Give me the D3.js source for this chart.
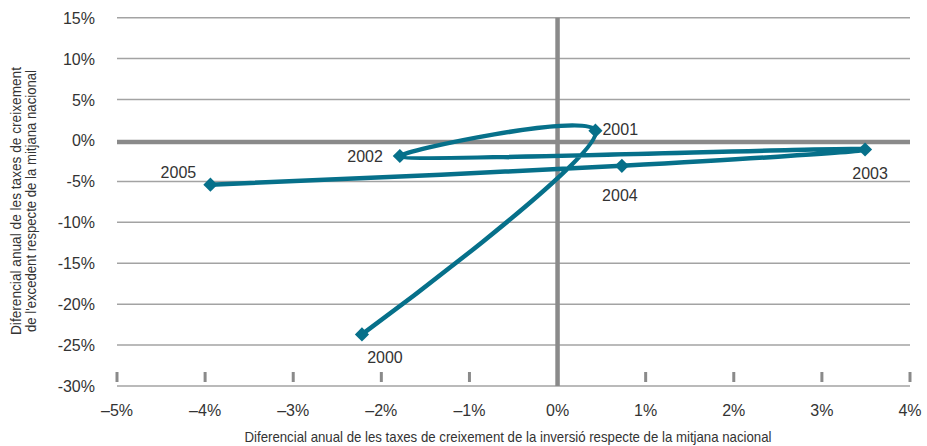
<!DOCTYPE html>
<html>
<head>
<meta charset="utf-8">
<script src="https://cdn.jsdelivr.net/npm/d3@7"></script>
<style>
  body { margin: 0; background: #fff; }
  text { font-family: "Liberation Sans", Arial, sans-serif; fill: #333; }
  .title { font-size: 15px; }
</style>
</head>
<body>
<svg id="chart" width="927" height="446"></svg>
<script>
// values (in %)
var years = ["2000", "2001", "2002", "2003", "2004", "2005"];
var inversio = [-2.22, 0.43, -1.79, 3.49, 0.73, -3.94];
var excedent = [-23.7, 1.2, -1.9, -1.1, -3.1, -5.4];
var xTicks = [-5, -4, -3, -2, -1, 0, 1, 2, 3, 4];
var yTicks = [15, 10, 5, 0, -5, -10, -15, -20, -25, -30];
// label offsets from marker: [dx, dy, anchor]
var labelPos = [[23, 29, "middle"], [7, 4, "start"], [-17, 6, "end"], [5, 30, "middle"], [-2, 35, "middle"], [-32, -7, "middle"]];

var svg = d3.select("#chart");
var x = d3.scaleLinear().domain([-5, 4]).range([117, 910]);
var y = d3.scaleLinear().domain([-30, 15]).range([386, 17.7]);

// horizontal grid
svg.append("g").selectAll("line").data(yTicks).join("line")
    .attr("x1", x(-5)).attr("x2", x(4))
    .attr("y1", function(d) { return d == 0 ? y(d) + 1.5 : y(d); })
    .attr("y2", function(d) { return d == 0 ? y(d) + 1.5 : y(d); })
    .attr("stroke", function(d) { return d == 0 ? "#8a8a8a" : "#a3a3a3"; })
    .attr("stroke-width", function(d) { return d == 0 ? 4.5 : 1.5; });

// y tick labels
svg.append("g").selectAll("text").data(yTicks).join("text")
    .attr("x", 95).attr("y", function(d) { return y(d) + 6; })
    .attr("text-anchor", "end")
    .style("font-size", "16px")
    .text(function(d) { return d + "%"; });

// x tick marks above the bottom line
svg.append("g").selectAll("line").data(xTicks.filter(function(d) { return d != 0; })).join("line")
    .attr("x1", function(d) { return x(d); })
    .attr("x2", function(d) { return x(d); })
    .attr("y1", y(-30) - 14).attr("y2", y(-30) - 4)
    .attr("stroke", "#8a8a8a").attr("stroke-width", 3);

// vertical zero line
svg.append("line")
    .attr("x1", x(0)).attr("x2", x(0))
    .attr("y1", y(15)).attr("y2", y(-30))
    .attr("stroke", "#8a8a8a").attr("stroke-width", 4.5);

// x tick labels
svg.append("g").selectAll("text").data(xTicks).join("text")
    .attr("x", function(d) { return x(d); })
    .attr("y", 416)
    .attr("text-anchor", "middle")
    .style("font-size", "16px")
    .text(function(d) { return (d < 0 ? "\u2013" + (-d) : d) + "%"; });

// axis titles
svg.append("text").attr("class", "title")
    .attr("x", 508).attr("y", 442)
    .attr("text-anchor", "middle")
    .attr("textLength", 527).attr("lengthAdjust", "spacingAndGlyphs")
    .text("Diferencial anual de les taxes de creixement de la inversió respecte de la mitjana nacional");

var yt = svg.append("text").attr("class", "title")
    .attr("transform", "translate(21,201) rotate(-90)")
    .attr("text-anchor", "middle");
yt.append("tspan").attr("x", 0).attr("dy", 0)
    .attr("textLength", 268).attr("lengthAdjust", "spacingAndGlyphs")
    .text("Diferencial anual de les taxes de creixement");
yt.append("tspan").attr("x", 0).attr("dy", 15)
    .attr("textLength", 262).attr("lengthAdjust", "spacingAndGlyphs")
    .text("de l'excedent respecte de la mitjana nacional");

// the path
var pts = years.map(function(d, i) { return [x(inversio[i]), y(excedent[i])]; });
var line = d3.line().curve(d3.curveCatmullRom.alpha(0.5));
svg.append("path")
    .attr("d", line(pts))
    .attr("fill", "none")
    .attr("stroke", "#06708a")
    .attr("stroke-width", 4.5);

// diamond markers (square turned 45 degrees)
svg.append("g").selectAll("path").data(pts).join("path")
    .attr("transform", function(d) { return "translate(" + d[0] + "," + d[1] + ") rotate(45)"; })
    .attr("d", d3.symbol().type(d3.symbolSquare).size(100))
    .attr("fill", "#06708a");

svg.append("g").selectAll("text").data(years).join("text")
    .attr("x", function(d, i) { return pts[i][0] + labelPos[i][0]; })
    .attr("y", function(d, i) { return pts[i][1] + labelPos[i][1]; })
    .attr("text-anchor", function(d, i) { return labelPos[i][2]; })
    .style("font-size", "16px")
    .text(function(d) { return d; });
</script>
</body>
</html>
